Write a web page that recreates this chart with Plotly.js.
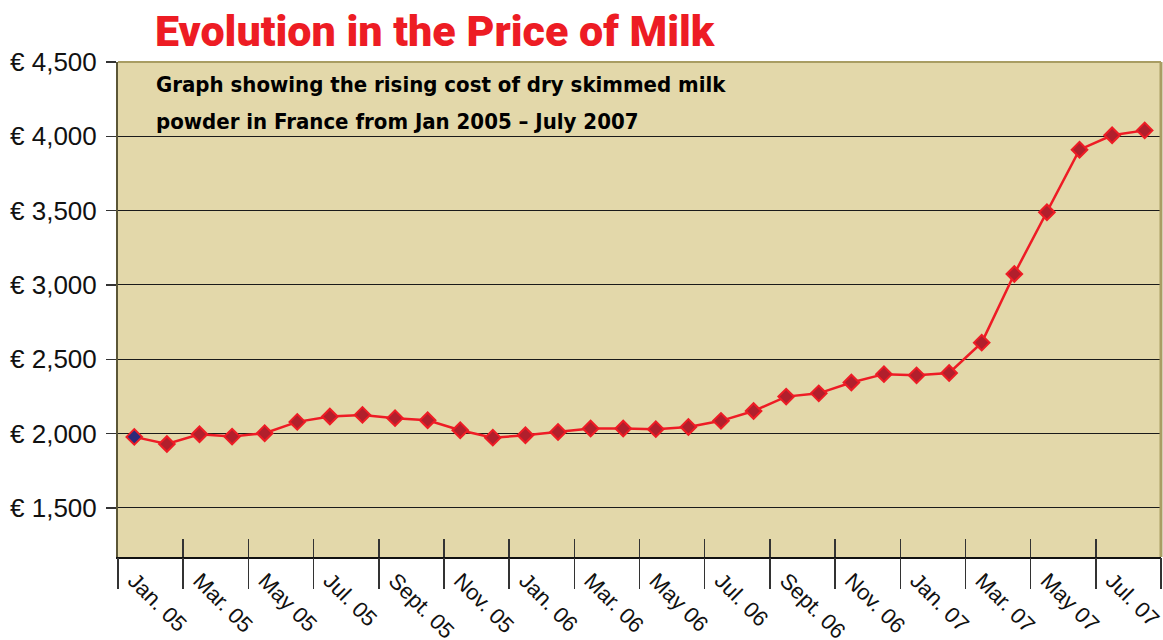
<!DOCTYPE html>
<html>
<head>
<meta charset="utf-8">
<script src="https://cdn.plot.ly/plotly-3.0.1.min.js"></script>
<style>html,body{margin:0;padding:0;background:#fff;}#chart{width:1163px;height:640px;}</style>
</head>
<body>
<div id="chart"></div>
<script>
// Months (Jan 2005 – Aug 2007)
const months = ["Jan. 05","Feb. 05","Mar. 05","Apr. 05","May 05","Jun. 05","Jul. 05","Aug. 05","Sept. 05","Oct. 05","Nov. 05","Dec. 05",
                "Jan. 06","Feb. 06","Mar. 06","Apr. 06","May 06","Jun. 06","Jul. 06","Aug. 06","Sept. 06","Oct. 06","Nov. 06","Dec. 06",
                "Jan. 07","Feb. 07","Mar. 07","Apr. 07","May 07","Jun. 07","Jul. 07","Aug. 07"];
// Price of dry skimmed milk powder (€ per tonne)
const prices = [1978,1930,1996,1980,2003,2079,2115,2126,2104,2090,2023,1973,
                1989,2011,2034,2034,2030,2045,2086,2152,2249,2271,2344,2400,
                2392,2408,2612,3074,3489,3910,4007,4040];
// Y tick values and labels
const yTicks = [1500,2000,2500,3000,3500,4000,4500];
const yTickLabels = ["€ 1,500","€ 2,000","€ 2,500","€ 3,000","€ 3,500","€ 4,000","€ 4,500"];

const titleText = "Evolution in the Price of Milk";
const subtitleLine1 = "Graph showing the rising cost of dry skimmed milk";
const subtitleLine2 = "powder in France from Jan 2005 – July 2007";

const markerColors = months.map((m,i) => i === 0 ? "#2b2a7a" : "#b11f2c");

const main = {
  x: months, y: prices, type: "scatter", mode: "lines+markers",
  line: {color: "#ee1c25", width: 2.5},
  marker: {symbol: "diamond", size: 12, color: markerColors, line: {color: "#ee1c25", width: 2}},
  hoverinfo: "x+y", showlegend: false
};
const ghost = {
  x: months, y: prices, type: "scatter", mode: "lines", xaxis: "x2",
  line: {color: "rgba(0,0,0,0)", width: 0}, hoverinfo: "skip", showlegend: false
};

const subFont = {family: "'Liberation Sans Narrow', 'DejaVu Sans Condensed', 'Liberation Sans', sans-serif", size: 22, weight: 700, color: "#000"};

const layout = {
  width: 1163, height: 640,
  margin: {l: 118, r: 2, t: 62, b: 83},
  paper_bgcolor: "#ffffff",
  plot_bgcolor: "#e3d8aa",
  title: {
    text: titleText,
    font: {family: "Roboto, 'Liberation Sans', Arial, sans-serif", size: 43, weight: 900, color: "#ed1c24"},
    xref: "container", yref: "container", x: 155/1163, xanchor: "left", y: 1 - 16/640, yanchor: "top", pad: {t: 0, b: 0, l: 0, r: 0}
  },
  xaxis: {
    type: "category", categoryorder: "array", categoryarray: months,
    range: [-0.5, months.length - 0.5],
    tickmode: "linear", tick0: 0, dtick: 2, tickson: "boundaries",
    ticks: "inside", ticklen: 18, tickwidth: 1.5, tickcolor: "#333",
    tickangle: 45, tickfont: {family: "'Liberation Sans', Arial, Helvetica, sans-serif", size: 22, color: "#111"},
    showline: true, linecolor: "#111", linewidth: 2,
    showgrid: false, zeroline: false, fixedrange: true
  },
  xaxis2: {
    type: "category", categoryorder: "array", categoryarray: months,
    range: [-0.5, months.length - 0.5], overlaying: "x", anchor: "y", side: "bottom",
    tickmode: "linear", tick0: 0, dtick: 2, tickson: "boundaries",
    ticks: "outside", ticklen: 31, tickwidth: 1.5, tickcolor: "#333",
    showticklabels: false, showline: false, showgrid: false, zeroline: false, fixedrange: true
  },
  yaxis: {
    range: [1170, 4500],
    tickmode: "array", tickvals: yTicks, ticktext: yTickLabels,
    tickfont: {family: "'Liberation Sans', Arial, Helvetica, sans-serif", size: 26, color: "#111"},
    ticks: "outside", ticklen: 10, tickwidth: 1.5, tickcolor: "#333",
    ticklabelstandoff: 4,
    showline: true, linecolor: "#5b5636", linewidth: 2,
    showgrid: true, gridcolor: "#1a1a1a", gridwidth: 1,
    zeroline: false, fixedrange: true
  },
  shapes: [
    {type: "line", xref: "paper", yref: "paper", x0: 0, x1: 1, y0: 1, y1: 1, line: {color: "#a99d63", width: 2}},
    {type: "line", xref: "paper", yref: "paper", x0: 1, x1: 1, y0: 0, y1: 1, line: {color: "#a99d63", width: 3}}
  ],
  annotations: [
    {text: subtitleLine1, xref: "paper", yref: "paper", x: (154-118)/1043, y: 1 - 8/495,
     xanchor: "left", yanchor: "top", align: "left", showarrow: false, font: subFont},
    {text: subtitleLine2, xref: "paper", yref: "paper", x: (154-118)/1043, y: 1 - 45/495,
     xanchor: "left", yanchor: "top", align: "left", showarrow: false, font: subFont}
  ]
};

Plotly.newPlot("chart", [main, ghost], layout, {displayModeBar: false, staticPlot: true});
</script>
</body>
</html>
